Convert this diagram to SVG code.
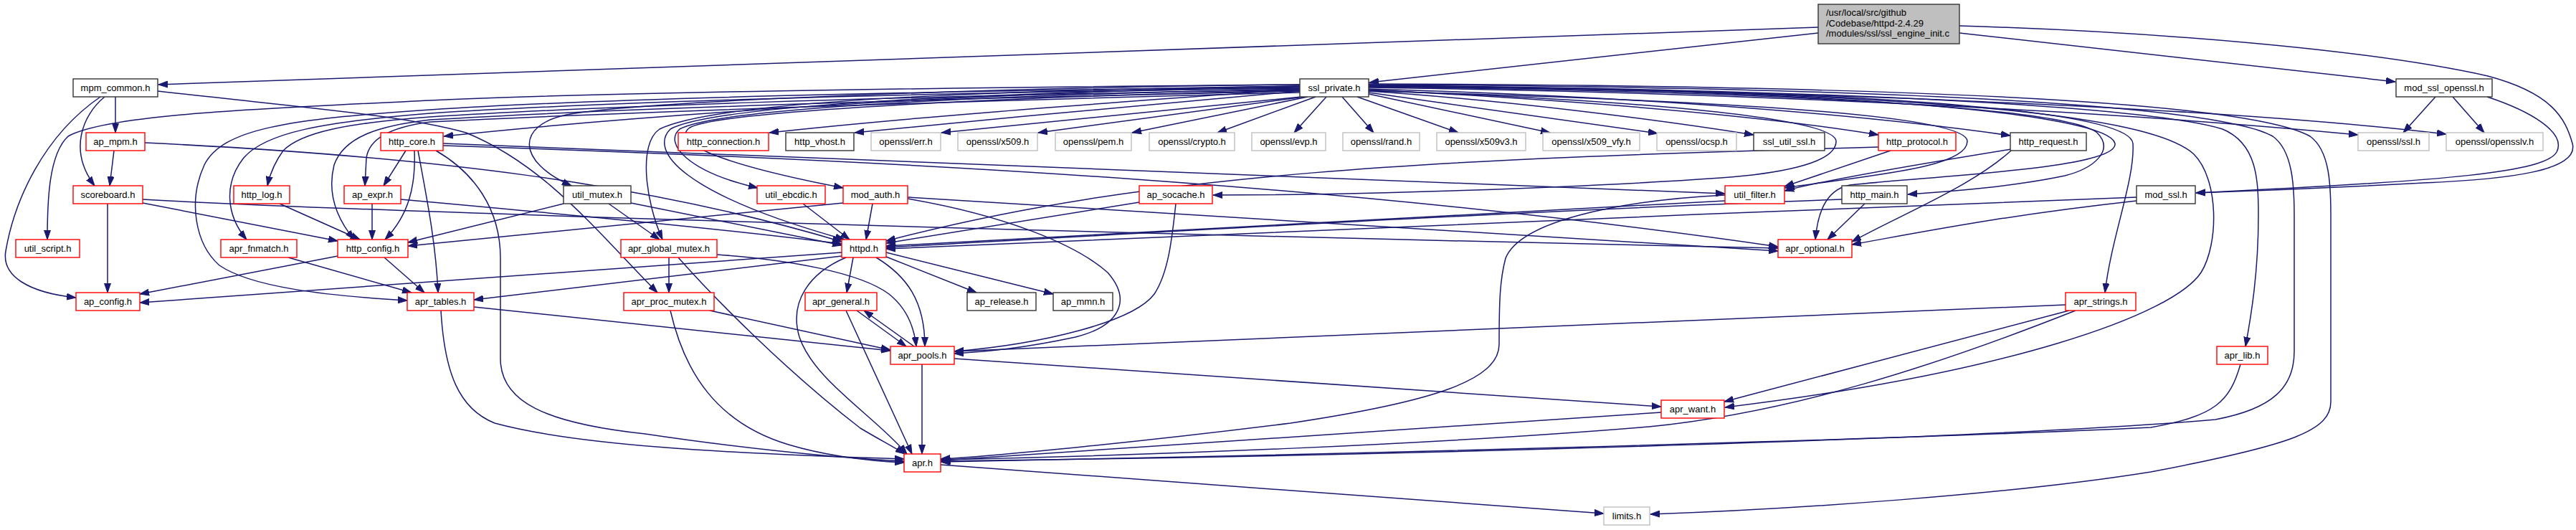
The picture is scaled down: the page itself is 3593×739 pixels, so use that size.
<svg xmlns="http://www.w3.org/2000/svg" width="3593" height="739" viewBox="0 0 3593 739">
<style>
rect{fill:#fff;stroke-width:1.4}
.n rect{stroke:#333}
.r rect{stroke:#ff0000}
.g rect{stroke:#bfbfbf}
.m rect{fill:#bfbfbf;stroke:#333}
text{font-family:"Liberation Sans",Arial,Helvetica,sans-serif;font-size:13px;fill:#000;text-anchor:middle}
.m text{text-anchor:start}
#edges path{fill:none;stroke:#191970;stroke-width:1.5;marker-end:url(#a)}
</style>
<defs>
<marker id="a" markerUnits="userSpaceOnUse" markerWidth="14" markerHeight="10" refX="13" refY="5" orient="auto"><path d="M0,0.5L13,5L0,9.5z" fill="#191970" stroke="#191970"/></marker>
</defs>
<rect x="0" y="0" width="3593" height="739" style="fill:#fff;stroke:none"/>
<g id="edges">
<path d="M2536,38 L221,118"/>
<path d="M2536,46 L1910,115"/>
<path d="M2733,46 L3341,114"/>
<path d="M2733,36 C3000,44 3300,68 3470,106 C3560,130 3578,165 3588,200 C3598,238 3500,250 3380,255 C3250,262 3150,266 3063,269"/>
<path d="M3469,135 C3530,155 3580,185 3566,212 C3550,240 3420,252 3063,269"/>
<path d="M3397,135 L3352,185"/>
<path d="M3421,135 L3465,185"/>
<path d="M161,135 L161,185"/>
<path d="M146,135 C115,160 95,210 132,259"/>
<path d="M140,135 C60,190 20,280 8,350 C2,385 40,408 106,415"/>
<path d="M220,127 C420,150 560,160 650,185 C760,230 830,320 917,408"/>
<path d="M159,210 L153,259"/>
<path d="M202,199 C600,218 900,255 1174,337"/>
<path d="M150,284 L150,408"/>
<path d="M199,283 L471,336"/>
<path d="M199,278 C500,295 1500,325 2480,346"/>
<path d="M1813,120 C1500,125 1000,150 619,190"/>
<path d="M1813,124 C1600,140 1300,160 1073,185"/>
<path d="M1813,127 C1600,145 1400,165 1192,185"/>
<path d="M1815,135 L1313,185"/>
<path d="M1819,135 L1448,185"/>
<path d="M1824,135 L1579,185"/>
<path d="M1835,135 L1698,185"/>
<path d="M1850,135 L1805,185"/>
<path d="M1872,135 L1916,185"/>
<path d="M1893,135 L2034,185"/>
<path d="M1909,131 L2162,185"/>
<path d="M1909,129 L2312,186"/>
<path d="M1909,127 C2100,140 2300,165 2446,188"/>
<path d="M1909,125 C2200,140 2450,160 2620,188"/>
<path d="M1909,124 C2300,135 2600,160 2804,189"/>
<path d="M1909,122 C2500,130 3000,160 3289,188"/>
<path d="M1909,121 C2500,125 3100,150 3412,187"/>
<path d="M1813,118 C1300,122 800,130 600,140 C350,152 150,160 95,190 C68,215 66,280 66,334"/>
<path d="M1813,121 C1200,128 800,140 600,153 C400,166 310,180 285,230 C262,280 272,340 306,370 C350,400 450,412 568,419"/>
<path d="M1813,123 C1200,130 800,145 600,158 C450,170 370,185 340,220 C312,255 315,300 344,334"/>
<path d="M1813,125 C1200,135 800,150 600,163 C480,172 420,185 395,210 C382,228 376,245 373,259"/>
<path d="M1813,127 C1200,140 800,155 600,167 C530,175 480,190 466,230 C456,270 470,305 494,334"/>
<path d="M1813,129 C1200,145 800,160 600,170 C540,178 515,195 511,220 L509,259"/>
<path d="M1813,118 C1400,122 900,140 790,160 C720,175 720,225 797,259"/>
<path d="M1813,120 C1400,125 1000,140 920,180 C890,200 900,280 924,334"/>
<path d="M1813,122 C1400,128 1000,145 935,180 C905,210 950,270 1178,334"/>
<path d="M1813,124 C1400,132 1000,150 948,180 C925,200 960,240 1057,262"/>
<path d="M1813,126 C1400,135 1000,155 962,178 C935,198 1000,228 1176,262"/>
<path d="M1909,126 C2300,140 2561,165 2561,197 C2561,230 2470,243 2400,248 C2200,262 1900,272 1692,272"/>
<path d="M1909,127 C2400,140 2744,160 2744,197 C2744,235 2600,245 2490,262"/>
<path d="M1909,121 C2500,128 2880,150 2925,185 C2950,210 2920,235 2880,245 C2800,262 2700,268 2661,271"/>
<path d="M1909,120 C2600,125 2940,160 2950,200 C2955,235 2700,245 2580,258 C2545,265 2535,300 2532,334"/>
<path d="M1909,120 C2700,125 2970,160 2975,200 C2978,250 2945,330 2936,408"/>
<path d="M1909,119 C2600,125 3000,150 3100,180 C3148,200 3150,250 3150,300 C3150,380 3140,440 3132,483"/>
<path d="M1909,119 C2700,128 3000,160 3060,215 C3095,250 3095,340 3070,380 C3030,440 2800,520 2406,568"/>
<path d="M1909,118 C2700,122 3100,150 3170,190 C3198,210 3200,260 3200,300 L3200,490 C3200,540 3170,570 3090,585 C2800,610 2000,635 1313,643"/>
<path d="M1909,117 C2800,120 3150,150 3222,190 C3250,210 3251,260 3251,300 L3251,560 C3251,600 3200,620 3000,658 C2800,690 2500,710 2302,717"/>
<path d="M566,210 L535,259"/>
<path d="M578,210 C580,260 570,300 537,334"/>
<path d="M583,210 C596,280 608,340 611,408"/>
<path d="M608,210 C660,240 698,290 698,360 L698,500 C698,560 760,590 900,605 C1000,620 1150,638 1261,643"/>
<path d="M618,200 C1200,222 1800,245 2406,270"/>
<path d="M618,203 C1300,225 1900,260 2480,344"/>
<path d="M390,284 L502,334"/>
<path d="M519,284 L519,334"/>
<path d="M559,278 C800,300 1000,318 1174,340"/>
<path d="M880,283 L1174,342"/>
<path d="M786,284 C700,305 620,325 569,338"/>
<path d="M849,284 L920,334"/>
<path d="M1120,284 L1185,334"/>
<path d="M1217,284 L1208,334"/>
<path d="M1176,283 C900,310 700,330 569,343"/>
<path d="M1266,275 C1700,300 2100,330 2480,350"/>
<path d="M1266,277 C1400,300 1500,340 1545,380 C1580,420 1560,455 1500,470 C1430,485 1380,490 1331,493"/>
<path d="M1589,282 L1236,339"/>
<path d="M1640,284 C1635,330 1630,380 1610,410 C1580,450 1450,480 1331,490"/>
<path d="M2406,280 C2000,300 1600,325 1236,343"/>
<path d="M2406,272 C2250,280 2120,310 2100,360 C2092,390 2091,420 2091,480 C2091,530 2000,560 1800,590 C1600,615 1400,635 1312,640"/>
<path d="M2569,278 C2100,295 1600,325 1236,345"/>
<path d="M2601,284 L2549,334"/>
<path d="M2980,275 C2400,295 1700,330 1236,347"/>
<path d="M2980,280 C2800,300 2700,320 2583,341"/>
<path d="M2620,205 C2000,222 1600,240 1236,336"/>
<path d="M2637,210 L2489,260"/>
<path d="M2805,208 C2700,225 2550,250 2489,266"/>
<path d="M2805,210 C2750,260 2650,300 2583,337"/>
<path d="M402,359 L574,408"/>
<path d="M471,357 L195,410"/>
<path d="M536,359 L592,408"/>
<path d="M1174,352 L195,422"/>
<path d="M1174,357 L661,418"/>
<path d="M1190,359 L1181,408"/>
<path d="M1236,358 L1362,408"/>
<path d="M1236,352 L1469,410"/>
<path d="M1222,359 C1265,385 1290,420 1290,483"/>
<path d="M1180,359 C1130,380 1100,420 1115,470 C1135,530 1220,580 1265,633"/>
<path d="M933,359 L933,408"/>
<path d="M1000,355 C1100,362 1200,380 1240,410 C1265,430 1275,455 1278,483"/>
<path d="M946,359 C1000,420 1100,520 1200,597 C1230,615 1245,622 1262,633"/>
<path d="M990,433 L1242,488"/>
<path d="M935,433 C955,520 1000,590 1100,620 C1150,635 1200,642 1261,645"/>
<path d="M661,428 L1242,489"/>
<path d="M615,433 C620,520 640,570 690,590 C800,620 1000,632 1261,640"/>
<path d="M1195,433 L1264,483"/>
<path d="M1180,433 L1272,633"/>
<path d="M1275,483 L1205,433"/>
<path d="M1286,508 L1286,633"/>
<path d="M1331,500 L2317,567"/>
<path d="M2881,425 C2300,448 1800,472 1331,490"/>
<path d="M2886,433 L2405,560"/>
<path d="M2895,433 C2700,510 2500,575 2300,595 C2000,620 1600,635 1312,641"/>
<path d="M3125,508 C3110,560 3090,580 3000,596 C2600,615 1800,635 1312,644"/>
<path d="M2317,575 L1312,642"/>
<path d="M1312,648 L2237,716"/>
</g>
<g id="main" class="m"><rect x="2536" y="6" width="197" height="55"/><text x="2547" y="21.5">/usr/local/src/github</text><text x="2547" y="36.5">/Codebase/httpd-2.4.29</text><text x="2547" y="51">/modules/ssl/ssl_engine_init.c</text></g>
<g id="mpm_common" class="n"><rect x="102" y="110" width="118" height="25"/><text x="161" y="127">mpm_common.h</text></g>
<g id="ssl_private" class="n"><rect x="1813" y="110" width="96" height="25"/><text x="1861" y="127">ssl_private.h</text></g>
<g id="mod_ssl_openssl" class="n"><rect x="3342" y="110" width="134" height="25"/><text x="3409" y="127">mod_ssl_openssl.h</text></g>
<g id="ap_mpm" class="r"><rect x="120" y="185" width="82" height="25"/><text x="161" y="202">ap_mpm.h</text></g>
<g id="http_core" class="r"><rect x="531" y="185" width="87" height="25"/><text x="574.5" y="202">http_core.h</text></g>
<g id="http_connection" class="r"><rect x="946" y="185" width="126" height="25"/><text x="1009" y="202">http_connection.h</text></g>
<g id="http_vhost" class="n"><rect x="1096" y="185" width="95" height="25"/><text x="1143.5" y="202">http_vhost.h</text></g>
<g id="openssl_err" class="g"><rect x="1215" y="185" width="97" height="25"/><text x="1263.5" y="202">openssl/err.h</text></g>
<g id="openssl_x509" class="g"><rect x="1336" y="185" width="111" height="25"/><text x="1391.5" y="202">openssl/x509.h</text></g>
<g id="openssl_pem" class="g"><rect x="1472" y="185" width="106" height="25"/><text x="1525" y="202">openssl/pem.h</text></g>
<g id="openssl_crypto" class="g"><rect x="1603" y="185" width="119" height="25"/><text x="1662.5" y="202">openssl/crypto.h</text></g>
<g id="openssl_evp" class="g"><rect x="1746" y="185" width="103" height="25"/><text x="1797.5" y="202">openssl/evp.h</text></g>
<g id="openssl_rand" class="g"><rect x="1873" y="185" width="107" height="25"/><text x="1926.5" y="202">openssl/rand.h</text></g>
<g id="openssl_x509v3" class="g"><rect x="2004" y="185" width="124" height="25"/><text x="2066" y="202">openssl/x509v3.h</text></g>
<g id="openssl_x509_vfy" class="g"><rect x="2152" y="185" width="135" height="25"/><text x="2219.5" y="202">openssl/x509_vfy.h</text></g>
<g id="openssl_ocsp" class="g"><rect x="2311" y="185" width="111" height="25"/><text x="2366.5" y="202">openssl/ocsp.h</text></g>
<g id="ssl_util_ssl" class="n"><rect x="2446" y="185" width="99" height="25"/><text x="2495.5" y="202">ssl_util_ssl.h</text></g>
<g id="http_protocol" class="r"><rect x="2620" y="185" width="108" height="25"/><text x="2674" y="202">http_protocol.h</text></g>
<g id="http_request" class="n"><rect x="2804" y="185" width="106" height="25"/><text x="2857" y="202">http_request.h</text></g>
<g id="openssl_ssl" class="g"><rect x="3289" y="185" width="99" height="25"/><text x="3338.5" y="202">openssl/ssl.h</text></g>
<g id="openssl_opensslv" class="g"><rect x="3412" y="185" width="135" height="25"/><text x="3479.5" y="202">openssl/opensslv.h</text></g>
<g id="scoreboard" class="r"><rect x="102" y="259" width="97" height="25"/><text x="150.5" y="276">scoreboard.h</text></g>
<g id="http_log" class="r"><rect x="326" y="259" width="78" height="25"/><text x="365" y="276">http_log.h</text></g>
<g id="ap_expr" class="r"><rect x="480" y="259" width="79" height="25"/><text x="519.5" y="276">ap_expr.h</text></g>
<g id="util_mutex" class="n"><rect x="786" y="259" width="94" height="25"/><text x="833" y="276">util_mutex.h</text></g>
<g id="util_ebcdic" class="r"><rect x="1056" y="259" width="95" height="25"/><text x="1103.5" y="276">util_ebcdic.h</text></g>
<g id="mod_auth" class="r"><rect x="1176" y="259" width="90" height="25"/><text x="1221" y="276">mod_auth.h</text></g>
<g id="ap_socache" class="r"><rect x="1589" y="259" width="102" height="25"/><text x="1640" y="276">ap_socache.h</text></g>
<g id="util_filter" class="r"><rect x="2406" y="259" width="83" height="25"/><text x="2447.5" y="276">util_filter.h</text></g>
<g id="http_main" class="n"><rect x="2569" y="259" width="91" height="25"/><text x="2614.5" y="276">http_main.h</text></g>
<g id="mod_ssl" class="n"><rect x="2980" y="259" width="82" height="25"/><text x="3021" y="276">mod_ssl.h</text></g>
<g id="util_script" class="r"><rect x="22" y="334" width="89" height="25"/><text x="66.5" y="351">util_script.h</text></g>
<g id="apr_fnmatch" class="r"><rect x="308" y="334" width="106" height="25"/><text x="361" y="351">apr_fnmatch.h</text></g>
<g id="http_config" class="r"><rect x="471" y="334" width="98" height="25"/><text x="520" y="351">http_config.h</text></g>
<g id="apr_global_mutex" class="r"><rect x="866" y="334" width="134" height="25"/><text x="933" y="351">apr_global_mutex.h</text></g>
<g id="httpd" class="r"><rect x="1174" y="334" width="62" height="25"/><text x="1205" y="351">httpd.h</text></g>
<g id="apr_optional" class="r"><rect x="2480" y="334" width="103" height="25"/><text x="2531.5" y="351">apr_optional.h</text></g>
<g id="ap_config" class="r"><rect x="106" y="408" width="89" height="25"/><text x="150.5" y="425">ap_config.h</text></g>
<g id="apr_tables" class="r"><rect x="568" y="408" width="93" height="25"/><text x="614.5" y="425">apr_tables.h</text></g>
<g id="apr_proc_mutex" class="r"><rect x="870" y="408" width="126" height="25"/><text x="933" y="425">apr_proc_mutex.h</text></g>
<g id="apr_general" class="r"><rect x="1123" y="408" width="100" height="25"/><text x="1173" y="425">apr_general.h</text></g>
<g id="ap_release" class="n"><rect x="1349" y="408" width="96" height="25"/><text x="1397" y="425">ap_release.h</text></g>
<g id="ap_mmn" class="n"><rect x="1469" y="408" width="83" height="25"/><text x="1510.5" y="425">ap_mmn.h</text></g>
<g id="apr_strings" class="r"><rect x="2881" y="408" width="98" height="25"/><text x="2930" y="425">apr_strings.h</text></g>
<g id="apr_pools" class="r"><rect x="1242" y="483" width="89" height="25"/><text x="1286.5" y="500">apr_pools.h</text></g>
<g id="apr_lib" class="r"><rect x="3092" y="483" width="71" height="25"/><text x="3127.5" y="500">apr_lib.h</text></g>
<g id="apr_want" class="r"><rect x="2317" y="558" width="88" height="25"/><text x="2361" y="575">apr_want.h</text></g>
<g id="apr" class="r"><rect x="1261" y="633" width="51" height="25"/><text x="1286.5" y="650">apr.h</text></g>
<g id="limits" class="g"><rect x="2237" y="707" width="64" height="25"/><text x="2269" y="724">limits.h</text></g>
</svg>
